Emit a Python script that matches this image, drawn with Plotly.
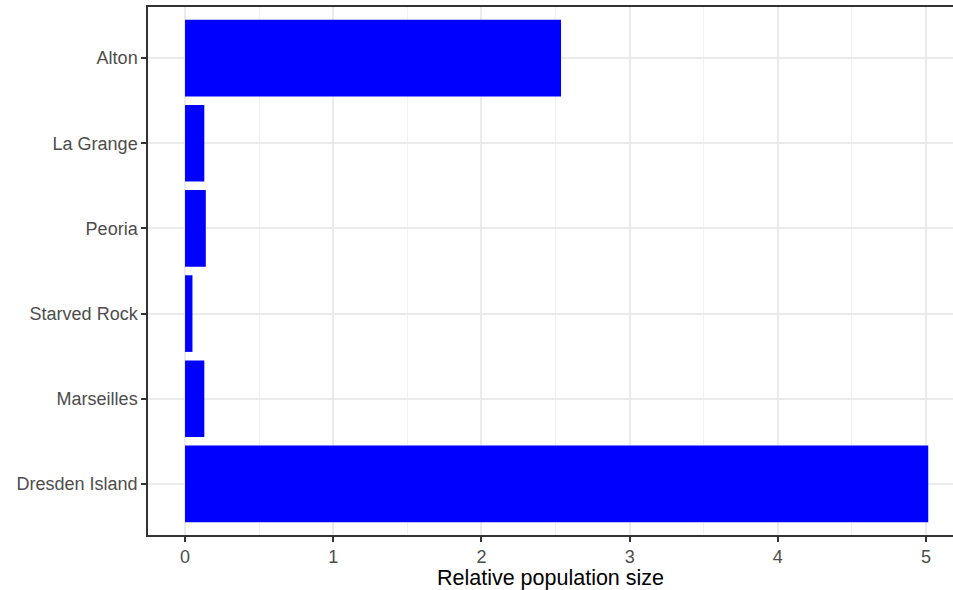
import plotly.graph_objects as go

sites = ["Dresden Island", "Marseilles", "Starved Rock", "Peoria", "La Grange", "Alton"]
rel_size = [5.015, 0.13, 0.05, 0.14, 0.13, 2.537]
x_ticks = [0, 1, 2, 3, 4, 5]

fig = go.Figure(go.Bar(
    x=rel_size, y=sites, orientation="h",
    marker=dict(color="#0000FF", line=dict(width=0)),
))

fig.update_layout(
    width=953, height=590,
    margin=dict(l=148, r=0, t=7, b=55),
    paper_bgcolor="white", plot_bgcolor="white",
    bargap=0.1, showlegend=False,
    font=dict(family="Liberation Sans, Arial, sans-serif"),
)
fig.update_xaxes(
    range=[-0.25, 5.182],
    tickvals=x_ticks, ticktext=[str(v) for v in x_ticks],
    showgrid=True, gridcolor="#EBEBEB", gridwidth=1.5,
    minor=dict(dtick=0.5, tick0=0, showgrid=True, gridcolor="#F2F2F2", gridwidth=0.8),
    showline=True, linecolor="#333333", linewidth=1.5, mirror=True,
    ticks="outside", ticklen=5, tickcolor="#333333", tickwidth=1.5,
    tickfont=dict(size=18, color="#4D4D4D"),
    title=dict(text="Relative population size", font=dict(size=21.5, color="black"), standoff=2),
    zeroline=False,
)
fig.update_yaxes(
    type="category", categoryorder="array", categoryarray=sites,
    range=[-0.6, 5.6],
    showgrid=True, gridcolor="#EBEBEB", gridwidth=1.5,
    showline=True, linecolor="#333333", linewidth=1.5,
    ticks="outside", ticklen=5, tickcolor="#333333", tickwidth=1.5,
    tickfont=dict(size=18, color="#4D4D4D"),
    zeroline=False,
)

fig.write_html("out.html", config={"displayModeBar": False},
               post_script="document.body.style.margin='0';document.body.style.overflow='hidden';")
